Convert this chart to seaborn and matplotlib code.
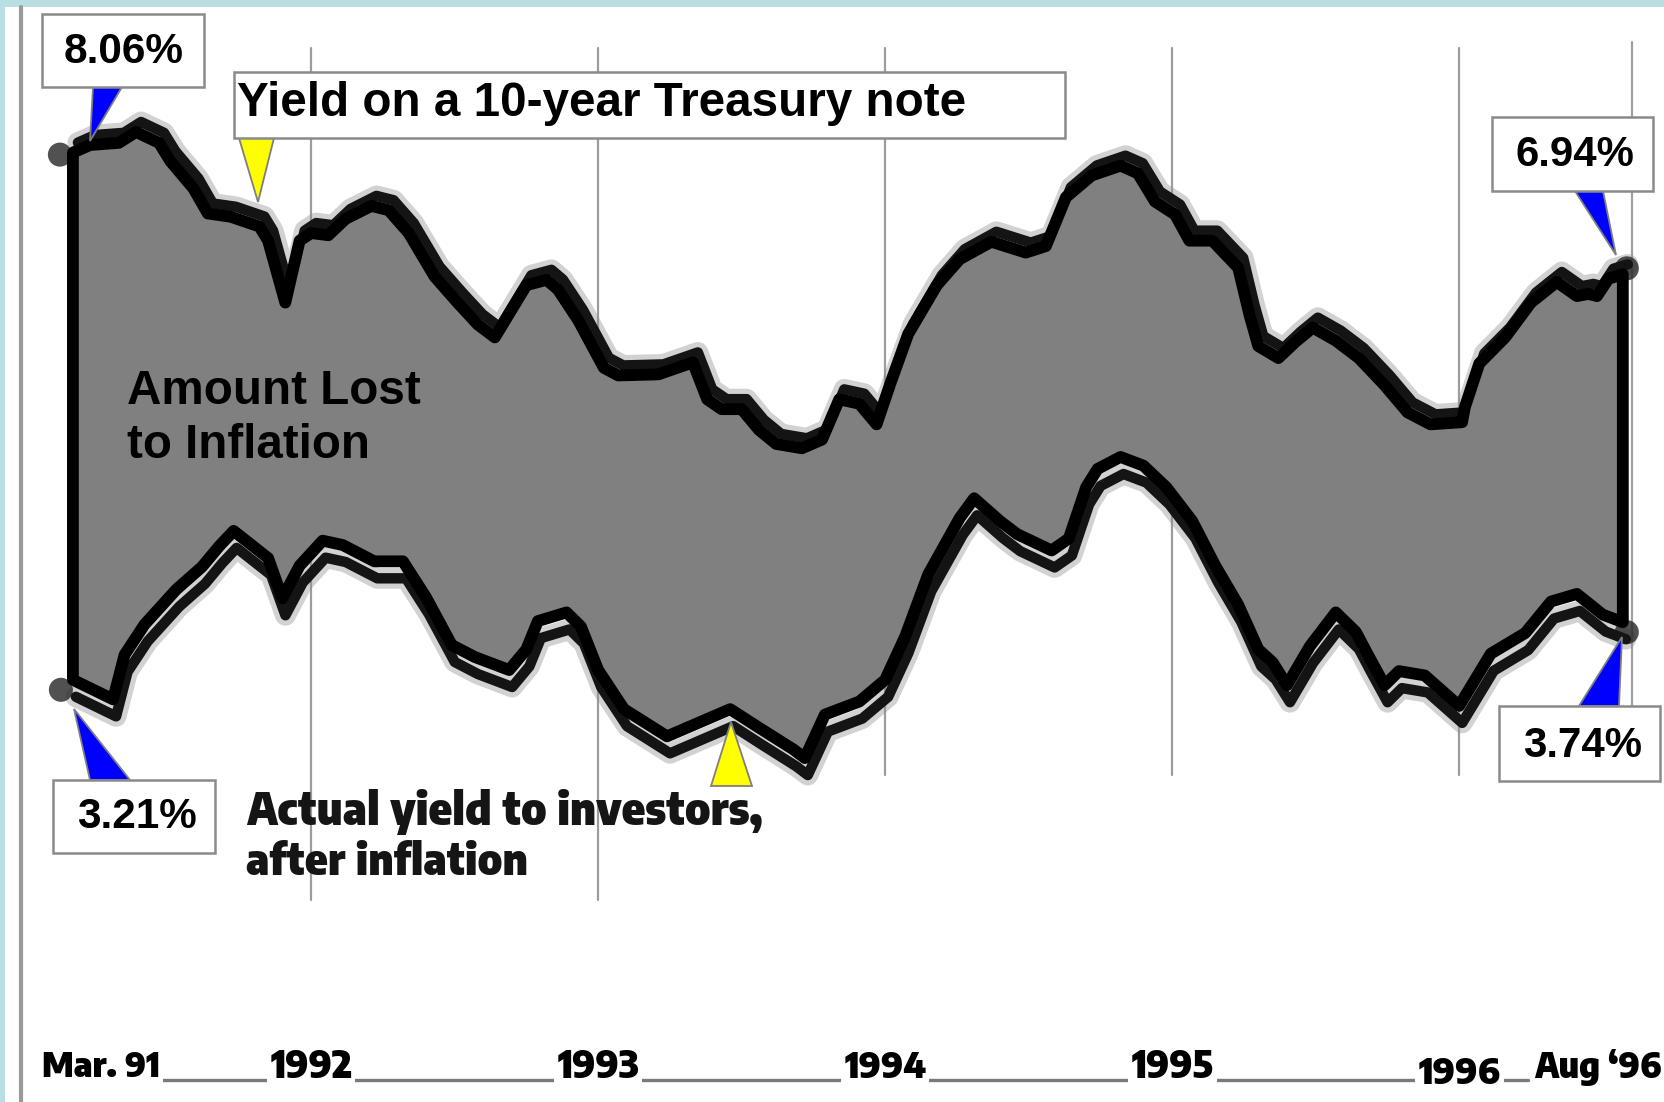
import os
import numpy as np
import pandas as pd
import matplotlib
matplotlib.use("Agg")
import matplotlib.pyplot as plt
import seaborn as sns
from matplotlib.patches import Polygon, Rectangle
from matplotlib import transforms as mtransforms
from matplotlib import font_manager as fm

# Yield on a 10-year Treasury note (%), by date in decimal years
treasury_dates = [1991.17, 1991.23, 1991.33, 1991.39, 1991.47, 1991.51, 1991.59, 1991.64, 1991.72,
                  1991.82, 1991.85, 1991.91, 1991.96,
                  1992.00, 1992.06, 1992.12, 1992.21, 1992.27, 1992.34, 1992.43, 1992.51, 1992.58,
                  1992.64, 1992.75, 1992.82, 1992.86, 1992.93,
                  1993.02, 1993.07, 1993.21, 1993.33, 1993.38, 1993.43, 1993.50, 1993.56, 1993.62,
                  1993.71, 1993.78, 1993.84, 1993.91, 1993.97,
                  1994.02, 1994.08, 1994.18, 1994.26, 1994.37, 1994.49, 1994.56, 1994.63, 1994.72,
                  1994.82, 1994.88, 1994.94,
                  1995.01, 1995.06, 1995.14, 1995.23, 1995.27, 1995.30, 1995.37, 1995.43, 1995.49,
                  1995.57, 1995.65, 1995.74, 1995.82, 1995.90,
                  1996.01, 1996.02, 1996.07, 1996.16, 1996.25, 1996.34, 1996.41, 1996.45, 1996.48,
                  1996.52, 1996.57]
treasury_yield = [8.06, 8.13, 8.15, 8.25, 8.15, 7.98, 7.73, 7.50, 7.47, 7.38, 7.25, 6.68, 7.25,
                  7.32, 7.30, 7.45, 7.57, 7.53, 7.32, 6.92, 6.68, 6.48, 6.36, 6.84, 6.89, 6.80, 6.52,
                  6.08, 6.01, 6.02, 6.13, 5.79, 5.70, 5.70, 5.51, 5.38, 5.34, 5.42, 5.79, 5.75, 5.56,
                  5.95, 6.39, 6.84, 7.08, 7.24, 7.14, 7.20, 7.65, 7.85, 7.94, 7.87, 7.61,
                  7.49, 7.25, 7.25, 7.00, 6.56, 6.28, 6.17, 6.32, 6.45, 6.33, 6.17, 5.92, 5.67, 5.56,
                  5.58, 5.72, 6.12, 6.36, 6.68, 6.87, 6.74, 6.76, 6.74, 6.90, 6.94]

# Actual yield to investors after inflation (%)
real_dates = [1991.17, 1991.31, 1991.35, 1991.42, 1991.53, 1991.62, 1991.68, 1991.73, 1991.85,
              1991.90, 1991.96,
              1992.04, 1992.11, 1992.22, 1992.32, 1992.40, 1992.49, 1992.57, 1992.69, 1992.75,
              1992.79, 1992.89, 1992.94,
              1993.00, 1993.09, 1993.24, 1993.46, 1993.56, 1993.68, 1993.72, 1993.79, 1993.91,
              1994.00, 1994.07, 1994.15, 1994.26, 1994.31, 1994.40, 1994.46, 1994.58, 1994.64,
              1994.70, 1994.74, 1994.82, 1994.90, 1994.98,
              1995.07, 1995.15, 1995.23, 1995.30, 1995.35, 1995.40, 1995.48, 1995.57, 1995.64,
              1995.68, 1995.74, 1995.79, 1995.88,
              1996.00, 1996.11, 1996.23, 1996.32, 1996.41, 1996.50, 1996.57]
real_yield = [3.21, 3.03, 3.44, 3.72, 4.04, 4.25, 4.44, 4.58, 4.33, 3.96, 4.26,
              4.49, 4.45, 4.30, 4.30, 3.97, 3.53, 3.42, 3.30, 3.49, 3.75, 3.83, 3.70,
              3.30, 2.94, 2.69, 2.94, 2.77, 2.57, 2.49, 2.89, 3.01,
              3.21, 3.61, 4.18, 4.70, 4.88, 4.67, 4.55, 4.40, 4.51, 4.98, 5.15, 5.26, 5.18, 4.98,
              4.67, 4.26, 3.90, 3.49, 3.37, 3.16, 3.52, 3.83, 3.65, 3.45, 3.16, 3.29, 3.25,
              2.97, 3.45, 3.64, 3.93, 4.00, 3.81, 3.74]

year_ticks = [1992, 1993, 1994, 1995, 1996]
year_labels = ["1992", "1993", "1994", "1995", "1996"]
start_label = "Mar. 91"
end_label = "Aug \u201896"

treasury = pd.DataFrame({"date": treasury_dates, "yield": treasury_yield})
real = pd.DataFrame({"date": real_dates, "yield": real_yield})

W, H = 1665, 1102
sns.set_theme(style="white")
plt.rcParams["font.family"] = ["Liberation Sans", "DejaVu Sans"]


def condensed_bold_font():
    """Pick a heavy, slightly condensed sans face for the newsprint labels."""
    best, best_score = None, -1
    for f in fm.fontManager.ttflist:
        low = os.path.basename(f.fname).lower()
        if "italic" in low or "oblique" in low or not low.endswith((".ttf", ".otf")):
            continue
        if "mono" in low or ("serif" in low and "sans" not in low):
            continue
        if "extracondensed" in low or "extra-condensed" in low:
            narrow = 1
        elif "semicondensed" in low:
            narrow = 3
        elif "condensed" in low or "narrow" in low or f.stretch == "condensed":
            narrow = 2
        else:
            continue
        if "black" in low:
            heavy = 3
        elif "extrabold" in low:
            heavy = 2
        elif "bold" in low and "semibold" not in low:
            heavy = 1
        else:
            continue
        score = narrow * 4 + heavy * 2 + (1 if "sans" in low else 0)
        if score > best_score:
            best, best_score = f.fname, score
    return best


cond_path = condensed_bold_font()


def cond_props(size):
    if cond_path:
        return fm.FontProperties(fname=cond_path, size=size)
    return fm.FontProperties(family=["Liberation Sans", "DejaVu Sans"], weight="bold", size=size)


fig = plt.figure(figsize=(W / 100, H / 100), dpi=100)
fig.patch.set_facecolor("white")
ax = fig.add_axes([0, 0, 1, 1])
ax.axis("off")

ident = mtransforms.IdentityTransform()


def P(x, y):
    """Pixel position measured from the top-left corner -> display coords."""
    return (x, H - y)


# page frame: tinted border and scanned left edge
ax.add_patch(Rectangle(P(0, 7), W, 7, transform=ident, fc="#b9dfe3", ec="none", zorder=0))
ax.add_patch(Rectangle(P(0, H), 5, H, transform=ident, fc="#b9dfe3", ec="none", zorder=0))
ax.add_line(plt.Line2D([21, 21], [0, H - 7], transform=ident, color="#9a9a9a", lw=3, zorder=0))
ax.add_line(plt.Line2D([1632, 1632], [H - 775, H - 42], transform=ident, color="#a0a0a0",
                       lw=1.6, zorder=0))

# year grid lines
for yr in year_ticks:
    bottom = 900 if yr < 1994 else 775
    ax.axvline(yr, ymin=1 - bottom / H, ymax=1 - 48 / H, color="#9c9c9c", lw=1.6, zorder=1)

# offset, softened copies of both series (the printed originals)
up_shadow = mtransforms.offset_copy(ax.transData, fig=fig, x=5, y=10, units="dots")
low_shadow = mtransforms.offset_copy(ax.transData, fig=fig, x=3, y=-17, units="dots")
for df, tr in [(treasury, up_shadow), (real, low_shadow)]:
    sns.lineplot(data=df, x="date", y="yield", ax=ax, sort=False, estimator=None,
                 color="#8f8f8f", lw=15, alpha=0.4, transform=tr, zorder=2,
                 solid_joinstyle="round", solid_capstyle="round")
    sns.lineplot(data=df, x="date", y="yield", ax=ax, sort=False, estimator=None,
                 color="#141414", lw=7.5, transform=tr, zorder=3,
                 solid_joinstyle="round", solid_capstyle="round")

# smudged end dots of the printed lines
dot_offsets = [(treasury, 0, -13, -2), (treasury, -1, 4, 6),
               (real, 0, -12, -10), (real, -1, 4, -10)]
for df, idx, dx, dy in dot_offsets:
    tr = mtransforms.offset_copy(ax.transData, fig=fig, x=dx, y=dy, units="dots")
    sns.scatterplot(data=df.iloc[[idx]], x="date", y="yield", ax=ax, s=300, color="#262626",
                    alpha=0.8, edgecolor="none", transform=tr, zorder=2, legend=False)

# band between the two series
band_x = np.r_[treasury["date"].to_numpy(), real["date"].to_numpy()[::-1]]
band_y = np.r_[treasury["yield"].to_numpy(), real["yield"].to_numpy()[::-1]]
ax.fill(band_x, band_y, facecolor="#808080", edgecolor="black", lw=8.5,
        joinstyle="round", zorder=4)

ax.set_xlim(1990.916, 1996.717)
ax.set_ylim(-0.674, 9.464)


def callout(base, tip, color):
    pts = [P(*base[0]), P(*base[1]), P(*tip)]
    ax.add_patch(Polygon(pts, closed=True, transform=ident, fc=color, ec="#7f7f7f",
                         lw=1.3, zorder=6))


def box(x0, y0, x1, y1):
    ax.add_patch(Rectangle(P(x0, y1), x1 - x0, y1 - y0, transform=ident, fc="white",
                           ec="#8a8a8a", lw=1.8, zorder=7))


bold = dict(fontweight="bold", color="black", zorder=8, transform=ident)
fitted = []  # (text, target width in pixels)

# end-point value labels
callout([(93, 87), (122, 87)], (90, 141), "#0000ff")
box(42, 14, 204, 87)
t = ax.text(*P(124, 52), "8.06%", ha="center", va="center", fontsize=31, **bold)
fitted.append((t, 120))

callout([(1575, 191), (1603, 191)], (1616, 255), "#0000ff")
box(1492, 117, 1653, 191)
t = ax.text(*P(1575, 155), "6.94%", ha="center", va="center", fontsize=31, **bold)
fitted.append((t, 119))

callout([(90, 780), (130, 780)], (74, 709), "#0000ff")
box(53, 780, 215, 853)
t = ax.text(*P(137, 817), "3.21%", ha="center", va="center", fontsize=31, **bold)
fitted.append((t, 120))

callout([(1579, 706), (1619, 706)], (1622, 637), "#0000ff")
box(1499, 706, 1660, 781)
t = ax.text(*P(1583, 746), "3.74%", ha="center", va="center", fontsize=31, **bold)
fitted.append((t, 119))

# series titles
callout([(239, 138), (274, 138)], (258, 202), "#ffff00")
box(234, 72, 1065, 138)
t = ax.text(*P(237, 103), "Yield on a 10-year Treasury note", ha="left", va="center",
            fontsize=34, **bold)
fitted.append((t, 730))

callout([(711, 786), (752, 786)], (731, 722), "#ffff00")
t1 = ax.text(*P(246, 812), "Actual yield to investors,", ha="left", va="center",
             fontproperties=cond_props(36), color="#151515", zorder=8, transform=ident)
t2 = ax.text(*P(246, 862), "after inflation", ha="left", va="center",
             fontproperties=cond_props(36), color="#151515", zorder=8, transform=ident)
fitted.append((t1, 516))
fitted.append((t2, 281))

t = ax.text(*P(127, 391), "Amount Lost", ha="left", va="center", fontsize=34, **bold)
fitted.append((t, 294))
t = ax.text(*P(127, 446), "to Inflation", ha="left", va="center", fontsize=34, **bold)
fitted.append((t, 243))

# date axis along the bottom
ax.add_line(plt.Line2D([160, 1528], [H - 1080, H - 1080], transform=ident,
                       color="#7a7a7a", lw=2.4, zorder=5))
lab_tr = mtransforms.blended_transform_factory(ax.transData, ident)
lab_box = dict(fc="white", ec="none", pad=3)
for yr, lab in zip(year_ticks, year_labels):
    t = ax.text(yr, H - (1073 if yr == 1996 else 1067), lab, ha="center", va="center",
                transform=lab_tr, fontproperties=cond_props(32), color="black", zorder=8,
                bbox=lab_box)
    fitted.append((t, 82))
t = ax.text(*P(42, 1067), start_label, ha="left", va="center", transform=ident,
            fontproperties=cond_props(32), color="black", zorder=8, bbox=lab_box)
fitted.append((t, 118))
t = ax.text(*P(1662, 1067), end_label, ha="right", va="center", transform=ident,
            fontproperties=cond_props(32), color="black", zorder=8, bbox=lab_box)
fitted.append((t, 128))

# scale each text so its printed width matches the layout
fig.canvas.draw()
renderer = fig.canvas.get_renderer()
for txt, target in fitted:
    w = txt.get_window_extent(renderer).width
    txt.set_fontsize(txt.get_fontsize() * target / w)

fig.savefig("out.png", dpi=100)
